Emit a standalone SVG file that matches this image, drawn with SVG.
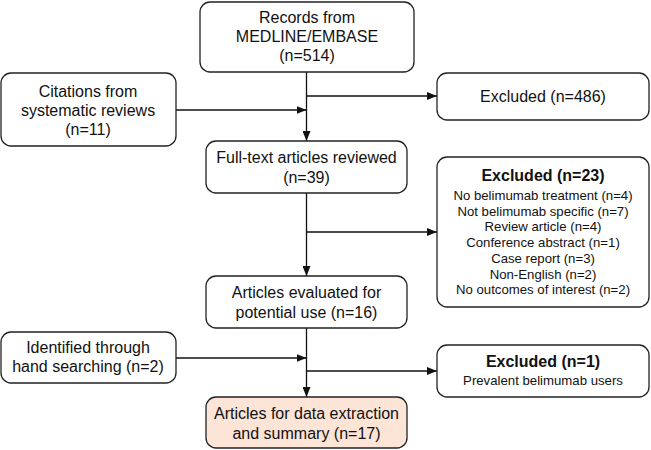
<svg xmlns="http://www.w3.org/2000/svg" width="651" height="450" viewBox="0 0 651 450">
<style>
.box{fill:#fff;stroke:#222;stroke-width:1.3}
.final{fill:#fce4d6}
text{font-family:"Liberation Sans",Arial,sans-serif;fill:#111;text-anchor:middle}
.m{font-size:16px}
.s{font-size:13.2px}
.b{font-size:16px;font-weight:bold}
.c{fill:none;stroke:#111;stroke-width:1.3}
</style>
<defs>
<marker id="ah" viewBox="0 0 10 8" refX="10" refY="4" markerWidth="10" markerHeight="8" markerUnits="userSpaceOnUse" orient="auto">
<path d="M0,0 L10,4 L0,8 z" fill="#111"/>
</marker>
</defs>
<g id="connectors">
<path class="c" d="M306.5,72 V141" marker-end="url(#ah)"/>
<path class="c" d="M306.5,96 H437" marker-end="url(#ah)"/>
<path class="c" d="M176,110 H306.5" marker-end="url(#ah)"/>
<path class="c" d="M306.5,193 V276" marker-end="url(#ah)"/>
<path class="c" d="M306.5,232 H437" marker-end="url(#ah)"/>
<path class="c" d="M306.5,328 V397" marker-end="url(#ah)"/>
<path class="c" d="M306.5,371 H437" marker-end="url(#ah)"/>
<path class="c" d="M176,358 H306.5" marker-end="url(#ah)"/>
</g>
<g id="records">
<rect class="box" x="200" y="2" width="214" height="70" rx="10"/>
<text class="m" x="307" y="23">Records from</text>
<text class="m" x="307" y="42">MEDLINE/EMBASE</text>
<text class="m" x="307" y="61">(n=514)</text>
</g>
<g id="citations">
<rect class="box" x="1" y="73" width="175" height="73" rx="10"/>
<text class="m" x="88" y="97">Citations from</text>
<text class="m" x="88" y="116">systematic reviews</text>
<text class="m" x="88" y="135">(n=11)</text>
</g>
<g id="excluded486">
<rect class="box" x="437" y="73" width="212" height="47" rx="10"/>
<text class="m" x="543" y="102">Excluded (n=486)</text>
</g>
<g id="fulltext">
<rect class="box" x="206" y="141" width="201" height="52" rx="10"/>
<text class="m" x="306.5" y="163">Full-text articles reviewed</text>
<text class="m" x="306.5" y="183">(n=39)</text>
</g>
<g id="excluded23">
<rect class="box" x="437" y="157" width="212" height="150" rx="10"/>
<text class="b" x="543" y="181">Excluded (n=23)</text>
<text class="s" x="543" y="200">No belimumab treatment (n=4)</text>
<text class="s" x="543" y="215.7">Not belimumab specific (n=7)</text>
<text class="s" x="543" y="231.4">Review article (n=4)</text>
<text class="s" x="543" y="247.1">Conference abstract (n=1)</text>
<text class="s" x="543" y="262.8">Case report (n=3)</text>
<text class="s" x="543" y="278.5">Non-English (n=2)</text>
<text class="s" x="543" y="294.2">No outcomes of interest (n=2)</text>
</g>
<g id="evaluated">
<rect class="box" x="206" y="276" width="201" height="52" rx="10"/>
<text class="m" x="306.5" y="298">Articles evaluated for</text>
<text class="m" x="306.5" y="318">potential use (n=16)</text>
</g>
<g id="identified">
<rect class="box" x="1" y="332" width="175" height="51" rx="10"/>
<text class="m" x="88" y="353">Identified through</text>
<text class="m" x="88" y="372">hand searching (n=2)</text>
</g>
<g id="excluded1">
<rect class="box" x="437" y="345" width="212" height="52" rx="10"/>
<text class="b" x="543" y="367">Excluded (n=1)</text>
<text class="s" x="543" y="385">Prevalent belimumab users</text>
</g>
<g id="final">
<rect class="box final" x="206" y="397" width="201" height="51" rx="10"/>
<text class="m" x="306.5" y="419">Articles for data extraction</text>
<text class="m" x="306.5" y="439">and summary (n=17)</text>
</g>
</svg>
